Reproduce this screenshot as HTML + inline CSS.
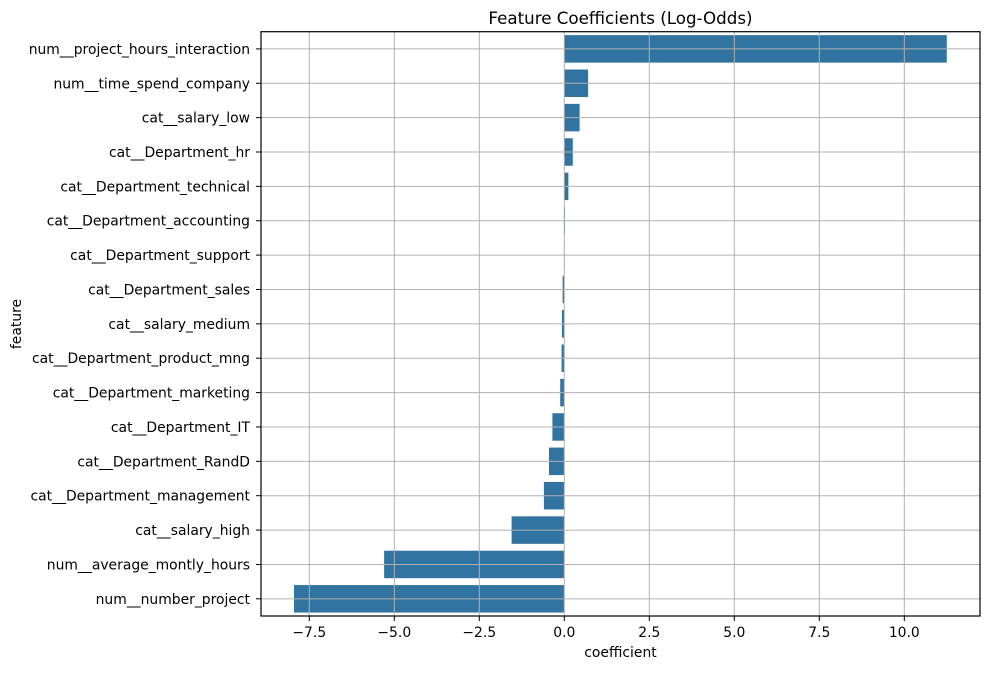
<!DOCTYPE html>
<html><head><meta charset="utf-8"><style>
body{margin:0;background:#fff;font-family:"Liberation Sans","DejaVu Sans",sans-serif;}
svg text{font-family:"DejaVu Sans","Liberation Sans",sans-serif;}
</style></head><body>
<svg id="chart" width="989" height="669" xmlns="http://www.w3.org/2000/svg"></svg>
<script>
const features = ["num__project_hours_interaction","num__time_spend_company","cat__salary_low","cat__Department_hr","cat__Department_technical","cat__Department_accounting","cat__Department_support","cat__Department_sales","cat__salary_medium","cat__Department_product_mng","cat__Department_marketing","cat__Department_IT","cat__Department_RandD","cat__Department_management","cat__salary_high","num__average_montly_hours","num__number_project"];
const coefficients = [11.25,0.7,0.45,0.25,0.12,0.02,0.01,-0.05,-0.07,-0.08,-0.12,-0.35,-0.45,-0.6,-1.55,-5.3,-7.95];
const xTicks = [-7.5,-5,-2.5,0,2.5,5,7.5,10];
const xTickLabels = ["−7.5","−5.0","−2.5","0.0","2.5","5.0","7.5","10.0"];

const NS="http://www.w3.org/2000/svg";
const svg=document.getElementById('chart');
const L=261,R=980,T=31.7,B=616;
const x0=564.3, ppu=34;
const xs=v=>x0+v*ppu;
const band=(B-T)/features.length;
const ys=i=>T+band*(i+0.5);
function mk(tag,attrs,parent){const e=document.createElementNS(NS,tag);for(const k in attrs)e.setAttribute(k,attrs[k]);(parent||svg).appendChild(e);return e;}

coefficients.forEach((v,i)=>{
  const h=band*0.8;
  const b=mk('rect',{x:Math.min(xs(0),xs(v)),y:ys(i)-h/2,width:Math.abs(xs(v)-xs(0)),height:h,fill:'#3274a1'});
  
  
});
xTicks.forEach(t=>{
  const g=mk('line',{x1:xs(t),x2:xs(t),y1:T,y2:B,stroke:'#b0b0b0','stroke-width':1});
  
  
});
features.forEach((f,i)=>{
  const g=mk('line',{x1:L,x2:R,y1:ys(i),y2:ys(i),stroke:'#b0b0b0','stroke-width':1});
  
  
});
const fr=mk('rect',{x:L,y:T,width:R-L,height:B-T,fill:'none',stroke:'#000','stroke-width':1.2});


xTicks.forEach((t,i)=>{
  mk('line',{x1:xs(t),x2:xs(t),y1:B,y2:B+5,stroke:'#000'});
  const tx=mk('text',{x:xs(t),y:B+21,'text-anchor':'middle','font-size':13.9,fill:'#000'});
  tx.textContent=xTickLabels[i];
  
  
});
features.forEach((f,i)=>{
  mk('line',{x1:L-5,x2:L,y1:ys(i),y2:ys(i),stroke:'#000'});
  const tx=mk('text',{x:L-11,y:ys(i)+5,'text-anchor':'end','font-size':13.9,fill:'#000'});
  tx.textContent=f;
  
  
});
</script>
<svg style="position:absolute;left:0;top:0" width="989" height="669" xmlns="http://www.w3.org/2000/svg">
<text x="620.5" y="24" text-anchor="middle" font-size="16.7">Feature Coefficients (Log-Odds)</text>
<text x="620.5" y="657" text-anchor="middle" font-size="13.9">coefficient</text>
<text transform="translate(21,324) rotate(-90)" text-anchor="middle" font-size="13.9">feature</text>
</svg>
</body></html>
